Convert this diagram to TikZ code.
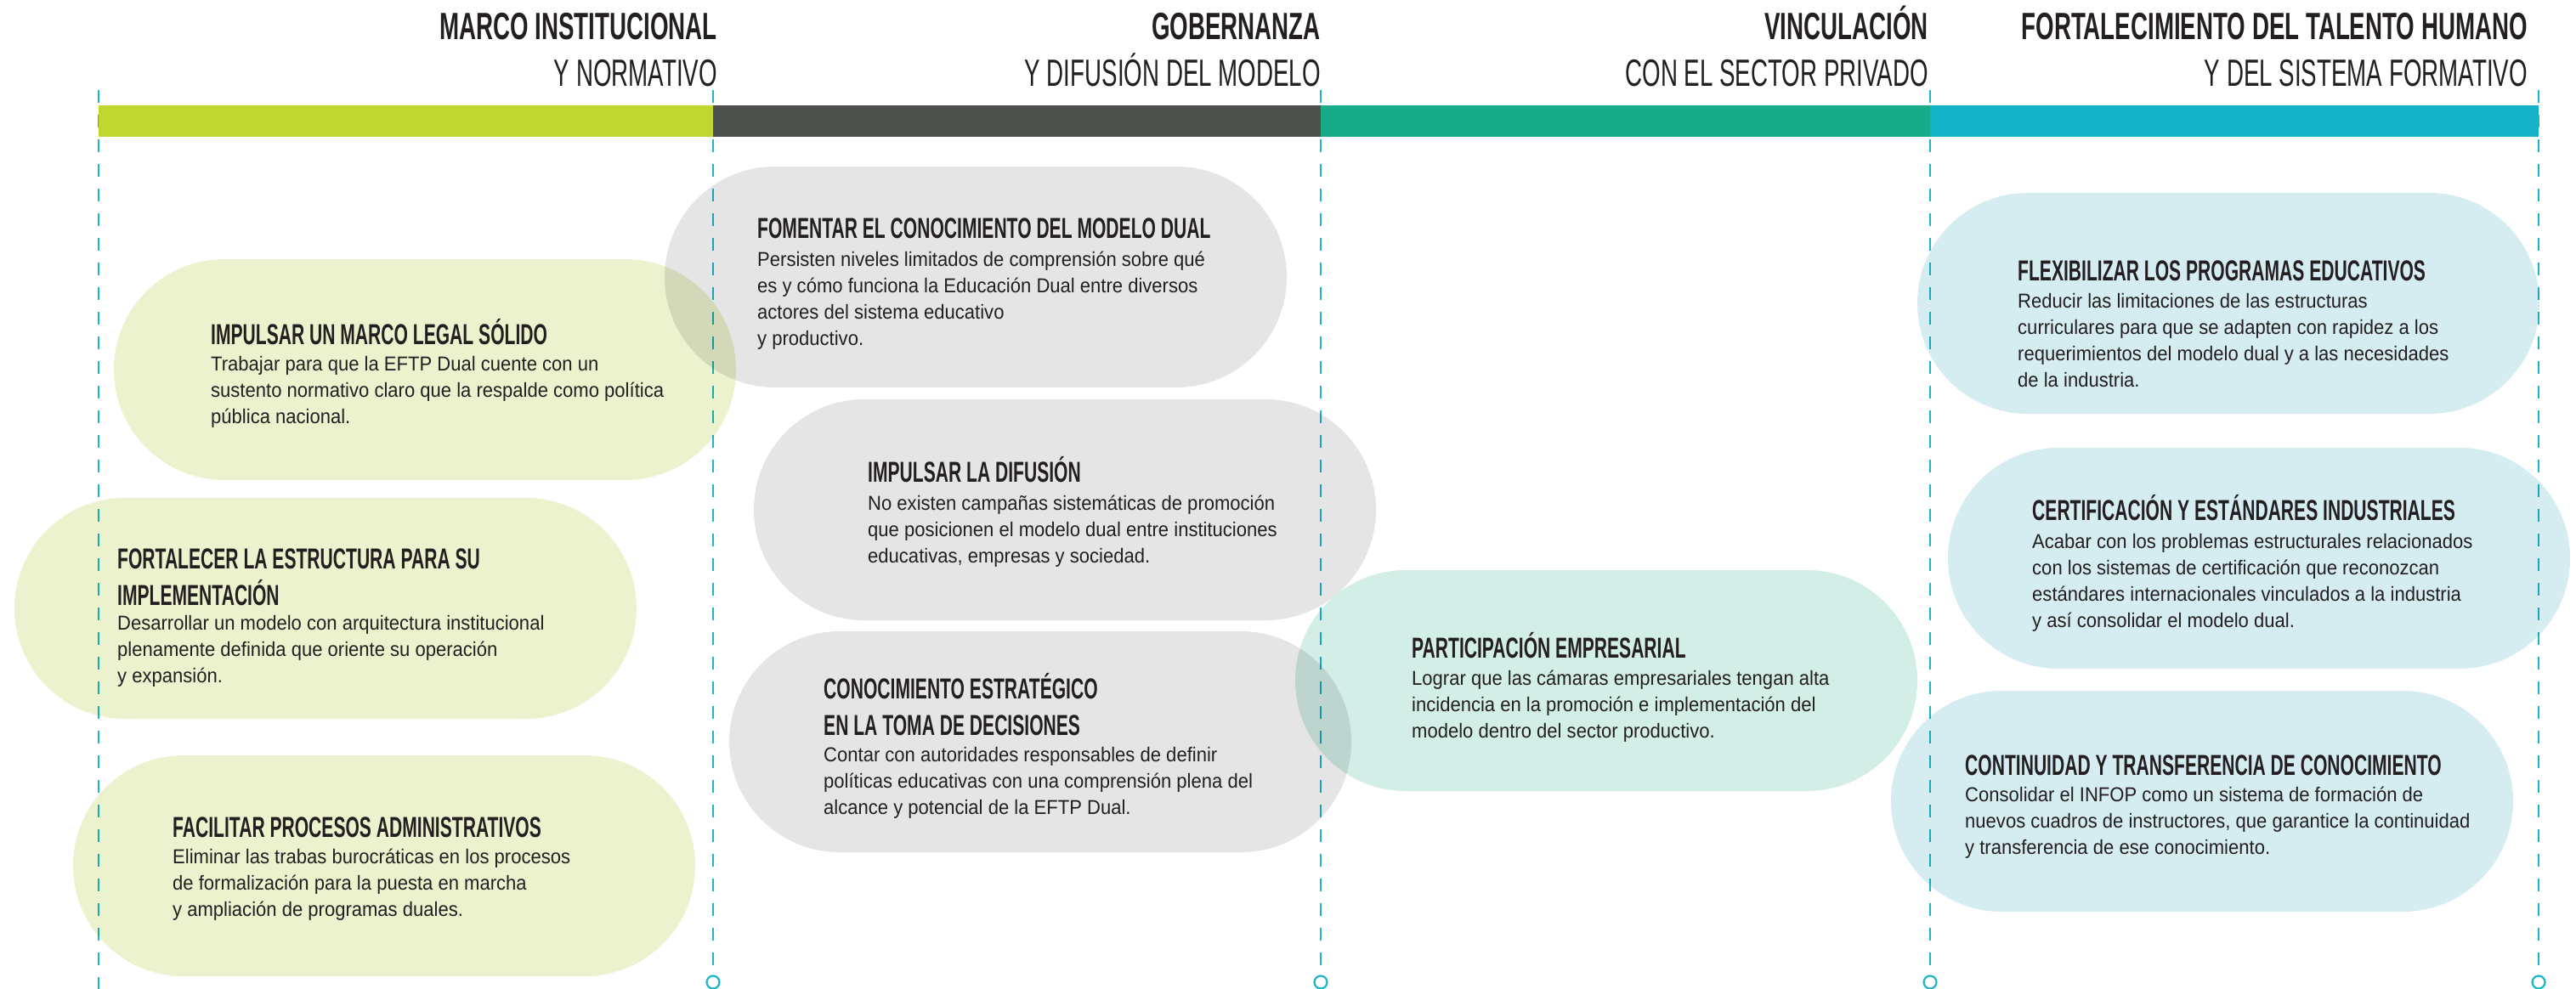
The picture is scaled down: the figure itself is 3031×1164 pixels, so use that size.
\documentclass[tikz,border=0pt]{standalone}
\usepackage{fontspec}
\usepackage{tikz}
\usetikzlibrary{shapes.misc}
\newfontfamily\hdfont[FakeStretch=0.62]{Liberation Sans}
\newfontfamily\descfont[FakeStretch=0.93]{Liberation Sans}
\definecolor{limebar}{HTML}{BFD730}
\definecolor{graybar}{HTML}{4E504D}
\definecolor{tealbar}{HTML}{17AB8A}
\definecolor{cyanbar}{HTML}{14B2C6}
\definecolor{guidecol}{HTML}{1DB6CA}
\definecolor{limefill}{HTML}{ECF2CD}
\definecolor{grayfill}{HTML}{E5E5E5}
\definecolor{tealfill}{HTML}{D3EDE7}
\definecolor{cyanfill}{HTML}{D5ECF1}
\definecolor{ink}{HTML}{231F20}
\tikzstyle{pill} = [rounded rectangle, minimum width=732, minimum height=260, inner sep=0, blend mode=multiply]
\tikzstyle{head} = [anchor=base east, inner sep=0, text=ink, font=\hdfont\bfseries\fontsize{44.7}{50}\selectfont]
\tikzstyle{subhead} = [anchor=base east, inner sep=0, text=ink, font=\hdfont\fontsize{44.7}{50}\selectfont]
\tikzstyle{ptitle} = [anchor=base west, inner sep=0, align=left, text=ink, font=\hdfont\bfseries\fontsize{34}{42.5}\selectfont]
\tikzstyle{pbody} = [anchor=base west, inner sep=0, align=left, text=ink, font=\descfont\fontsize{23.7}{30.7}\selectfont]
\tikzstyle{guide} = [guidecol, line width=2.5, dash pattern=on 15pt off 14pt]
\tikzstyle{stop} = [guidecol, line width=2.2, fill=white]

\begin{document}
\begin{tikzpicture}[x=1pt, y=-1pt]
        \useasboundingbox (0,0) rectangle (3031,1164);
        \draw [guide] (116,106) -- (116,1164);
        \draw [guide] (839,106) -- (839,1141);
        \draw [guide] (1554,106) -- (1554,1141);
        \draw [guide] (2271,106) -- (2271,1141);
        \draw [guide] (2987,106) -- (2987,1141);
        \draw [stop] (839,1156) circle (7.5);
        \draw [stop] (1554,1156) circle (7.5);
        \draw [stop] (2271,1156) circle (7.5);
        \draw [stop] (2987,1156) circle (7.5);

        \fill [limebar] (116,124) rectangle (839,161);
        \fill [graybar] (839,124) rectangle (1554,161);
        \fill [tealbar] (1554,124) rectangle (2271,161);
        \fill [cyanbar] (2271,124) rectangle (2987,161);

        \node [head] at (844,47) (marco) {MARCO INSTITUCIONAL};
        \node [subhead] at (844,102) (marcosub) {Y NORMATIVO};
        \node [head] at (1554,47) (gob) {GOBERNANZA};
        \node [subhead] at (1554,102) (gobsub) {Y DIFUSIÓN DEL MODELO};
        \node [head] at (2269,47) (vinc) {VINCULACIÓN};
        \node [subhead] at (2269,102) (vincsub) {CON EL SECTOR PRIVADO};
        \node [head] at (2974,47) (talento) {FORTALECIMIENTO DEL TALENTO HUMANO};
        \node [subhead] at (2974,102) (talentosub) {Y DEL SISTEMA FORMATIVO};

        \node [pill, fill=limefill] at (500,435) (legal) {};
        \node [pill, fill=limefill] at (383,716) (estructura) {};
        \node [pill, fill=limefill] at (452,1019) (procesos) {};
        \node [pill, fill=grayfill] at (1148,326) (conoc) {};
        \node [pill, fill=grayfill] at (1253,600) (difusion) {};
        \node [pill, fill=grayfill] at (1224,873) (estrat) {};
        \node [pill, fill=tealfill] at (1890,801) (partic) {};
        \node [pill, fill=cyanfill] at (2622,357) (flexib) {};
        \node [pill, fill=cyanfill] at (2658,657) (certif) {};
        \node [pill, fill=cyanfill] at (2591,943) (contin) {};

        \node [ptitle] at (248,405) (legalt) {IMPULSAR UN MARCO LEGAL SÓLIDO};
        \node [pbody] at (248,498) (legalb) {Trabajar para que la EFTP Dual cuente con un\\sustento normativo claro que la respalde como política\\pública nacional.};
        \node [ptitle] at (138,712) (estructurat) {FORTALECER LA ESTRUCTURA PARA SU\\IMPLEMENTACIÓN};
        \node [pbody] at (138,803) (estructurab) {Desarrollar un modelo con arquitectura institucional\\plenamente definida que oriente su operación\\y expansión.};
        \node [ptitle] at (203,985) (procesost) {FACILITAR PROCESOS ADMINISTRATIVOS};
        \node [pbody] at (203,1078) (procesosb) {Eliminar las trabas burocráticas en los procesos\\de formalización para la puesta en marcha\\y ampliación de programas duales.};

        \node [ptitle] at (891,280) (conoct) {FOMENTAR EL CONOCIMIENTO DEL MODELO DUAL};
        \node [pbody] at (891,406) (conocb) {Persisten niveles limitados de comprensión sobre qué\\es y cómo funciona la Educación Dual entre diversos\\actores del sistema educativo\\y productivo.};
        \node [ptitle] at (1021,567) (difusiont) {IMPULSAR LA DIFUSIÓN};
        \node [pbody] at (1021,662) (difusionb) {No existen campañas sistemáticas de promoción\\que posicionen el modelo dual entre instituciones\\educativas, empresas y sociedad.};
        \node [ptitle] at (969,865) (estratt) {CONOCIMIENTO ESTRATÉGICO\\EN LA TOMA DE DECISIONES};
        \node [pbody] at (969,958) (estratb) {Contar con autoridades responsables de definir\\políticas educativas con una comprensión plena del\\alcance y potencial de la EFTP Dual.};

        \node [ptitle] at (1661,774) (partict) {PARTICIPACIÓN EMPRESARIAL};
        \node [pbody] at (1661,868) (particb) {Lograr que las cámaras empresariales tengan alta\\incidencia en la promoción e implementación del\\modelo dentro del sector productivo.};

        \node [ptitle] at (2374,330) (flexibt) {FLEXIBILIZAR LOS PROGRAMAS EDUCATIVOS};
        \node [pbody] at (2374,455) (flexibb) {Reducir las limitaciones de las estructuras\\curriculares para que se adapten con rapidez a los\\requerimientos del modelo dual y a las necesidades\\de la industria.};
        \node [ptitle] at (2391,612) (certift) {CERTIFICACIÓN Y ESTÁNDARES INDUSTRIALES};
        \node [pbody] at (2391,738) (certifb) {Acabar con los problemas estructurales relacionados\\con los sistemas de certificación que reconozcan\\estándares internacionales vinculados a la industria\\y así consolidar el modelo dual.};
        \node [ptitle] at (2312,912) (contint) {CONTINUIDAD Y TRANSFERENCIA DE CONOCIMIENTO};
        \node [pbody] at (2312,1005) (continb) {Consolidar el INFOP como un sistema de formación de\\nuevos cuadros de instructores, que garantice la continuidad\\y transferencia de ese conocimiento.};
\end{tikzpicture}
\end{document}
